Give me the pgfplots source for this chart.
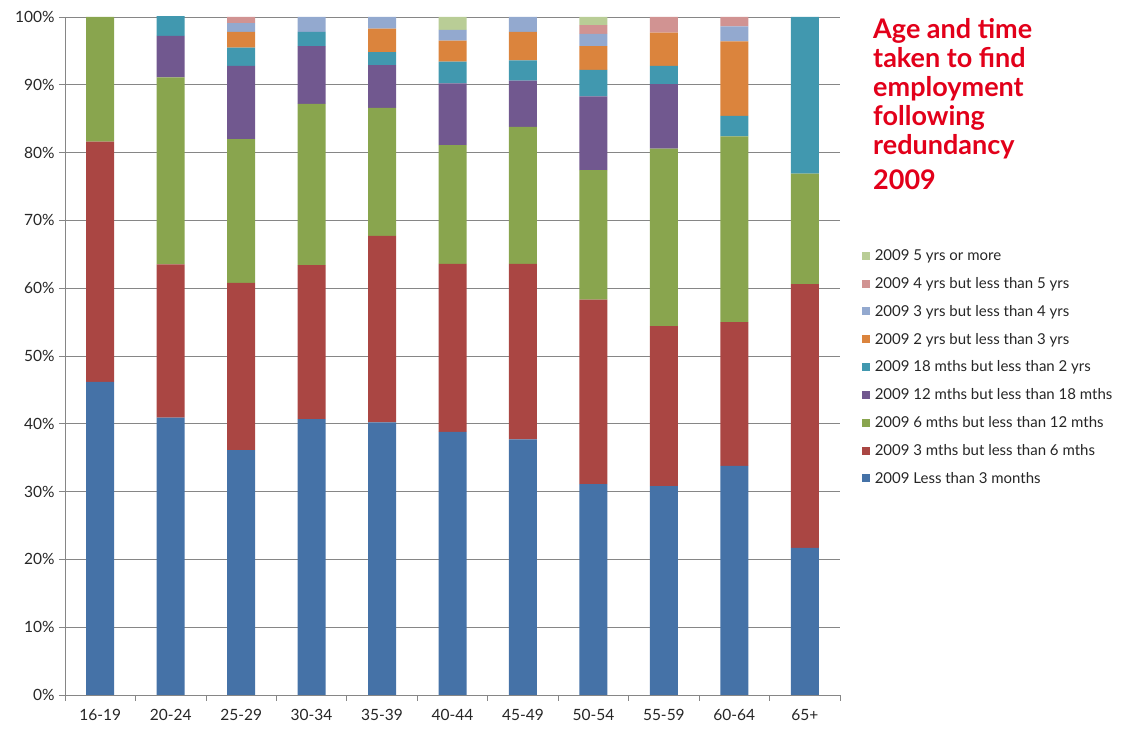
\documentclass[border=0pt]{standalone}
\usepackage{fontspec}
\setmainfont{Lato}
\usepackage{pgfplots}
\pgfplotsset{compat=1.18}
\definecolor{cA}{HTML}{4572A7}
\definecolor{cB}{HTML}{AA4643}
\definecolor{cC}{HTML}{89A54E}
\definecolor{cD}{HTML}{71588F}
\definecolor{cE}{HTML}{4198AF}
\definecolor{cF}{HTML}{DB843D}
\definecolor{cG}{HTML}{93A9CF}
\definecolor{cH}{HTML}{D19392}
\definecolor{cI}{HTML}{B9CD96}
\definecolor{gridgray}{HTML}{868686}
\definecolor{titlered}{HTML}{E2001A}
\definecolor{txt}{HTML}{262626}
\begin{document}
\begin{tikzpicture}
\path[use as bounding box] (0,0) rectangle (1126bp,731bp);
\begin{axis}[
  at={(65bp,36bp)}, anchor=south west,
  width=775bp, height=678bp, scale only axis,
  ybar stacked, bar width=28bp,
  xmin=-0.5, xmax=10.5, ymin=0, ymax=100,
  axis x line*=bottom, axis y line*=left,
  axis line style={gridgray, line width=0.8pt},
  xtick={0,...,10},
  xticklabels={16-19,20-24,25-29,30-34,35-39,40-44,45-49,50-54,55-59,60-64,65+},
  major x tick style={draw=none},
  minor xtick={-0.5,0.5,...,10.5},
  minor x tick style={gridgray, line width=0.8pt},
  minor tick length=6bp,
  ytick={0,10,...,100},
  yticklabel={\pgfmathprintnumber{\tick}\%},
  /pgf/number format/assume math mode=true,
  major tick length=6bp,
  tick align=outside,
  y tick style={gridgray, line width=0.8pt},
  ymajorgrids, grid style={gridgray, line width=0.8pt},
  tick label style={font=\fontsize{15.5bp}{17bp}\selectfont, text=txt},
  xticklabel style={yshift=-5bp},
  yticklabel style={xshift=-1bp},
  legend cell align=left,
  reverse legend,
  legend style={at={(rel axis cs:1.024,0.663)}, anchor=north west, draw=none, fill=none,
    font=\fontsize{15bp}{17bp}\selectfont, text=txt, row sep=11.3bp,
    /tikz/every odd column/.append style={column sep=3bp}},
  legend image code/.code={\fill[#1] (0bp,-4bp) rectangle (8bp,4bp);},
  every axis plot/.append style={draw=none},
]
% Less than 3 months
\addplot[fill=cA] coordinates {(0,46.2) (1,40.9) (2,36.1) (3,40.7) (4,40.2) (5,38.8) (6,37.7) (7,31.1) (8,30.8) (9,33.8) (10,21.7)};
% 3 to 6 mths
\addplot[fill=cB] coordinates {(0,35.4) (1,22.6) (2,24.7) (3,22.7) (4,27.5) (5,24.8) (6,25.9) (7,27.2) (8,23.6) (9,21.2) (10,38.9)};
% 6 to 12 mths
\addplot[fill=cC] coordinates {(0,18.4) (1,27.6) (2,21.2) (3,23.8) (4,18.9) (5,17.5) (6,20.2) (7,19.1) (8,26.2) (9,27.4) (10,16.3)};
% 12 to 18 mths
\addplot[fill=cD] coordinates {(0,0) (1,6.1) (2,10.8) (3,8.5) (4,6.3) (5,9.1) (6,6.8) (7,10.9) (8,9.5) (9,0) (10,0)};
% 18 mths to 2 yrs
\addplot[fill=cE] coordinates {(0,0) (1,3.0) (2,2.7) (3,2.1) (4,1.9) (5,3.2) (6,3.0) (7,3.9) (8,2.7) (9,3.0) (10,23.1)};
% 2 to 3 yrs
\addplot[fill=cF] coordinates {(0,0) (1,0) (2,2.3) (3,0) (4,3.5) (5,3.1) (6,4.2) (7,3.5) (8,4.9) (9,11.0) (10,0)};
% 3 to 4 yrs
\addplot[fill=cG] coordinates {(0,0) (1,0) (2,1.3) (3,2.2) (4,1.7) (5,1.6) (6,2.2) (7,1.8) (8,0) (9,2.2) (10,0)};
% 4 to 5 yrs
\addplot[fill=cH] coordinates {(0,0) (1,0) (2,0.9) (3,0) (4,0) (5,0) (6,0) (7,1.3) (8,2.3) (9,1.4) (10,0)};
% 5 yrs or more
\addplot[fill=cI] coordinates {(0,0) (1,0) (2,0) (3,0) (4,0) (5,1.9) (6,0) (7,1.2) (8,0) (9,0) (10,0)};
\legend{2009 Less than 3 months, 2009 3 mths but less than 6 mths, 2009 6 mths but less than 12 mths, 2009 12 mths but less than 18 mths, 2009 18 mths but less than 2 yrs, 2009 2 yrs but less than 3 yrs, 2009 3 yrs but less than 4 yrs, 2009 4 yrs but less than 5 yrs, 2009 5 yrs or more}
\end{axis}
\node[anchor=north west, inner sep=0pt, align=left, text=titlered,
  font=\fontsize{27bp}{29bp}\selectfont\bfseries] at (873bp,713bp)
  {Age and time\\taken to find\\employment\\following\\redundancy\\[6bp]2009};
\end{tikzpicture}
\end{document}
